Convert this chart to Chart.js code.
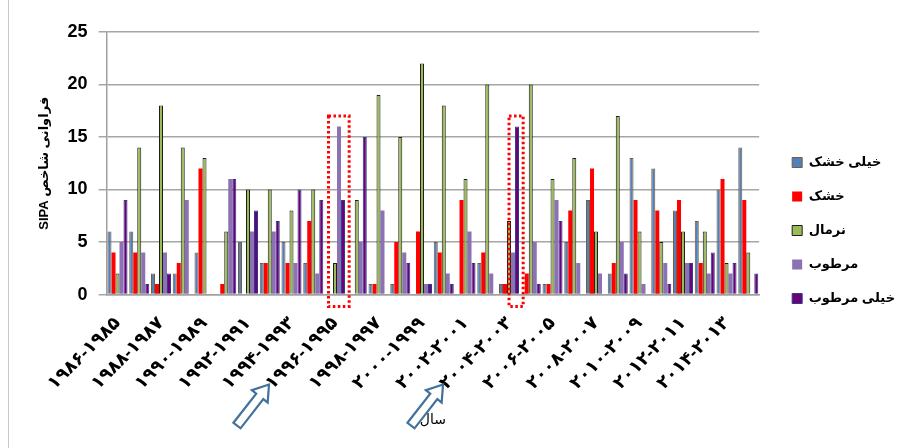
<!DOCTYPE html>
<html>
<head>
<meta charset="utf-8">
<script src="https://cdn.jsdelivr.net/npm/chart.js@4.4.0/dist/chart.umd.min.js"></script>
<style>
    html, body { margin: 0; padding: 0; background: #fff; }
    #wrap { position: relative; width: 903px; height: 448px; }
    canvas { direction: rtl; }
</style>
</head>
<body>
<div id="wrap"><canvas id="sipaChart" width="903" height="448"></canvas></div>
<script>
// hydrological years
const categories = [
    "۱۹۸۶-۱۹۸۵", "۱۹۸۷-۱۹۸۶", "۱۹۸۸-۱۹۸۷", "۱۹۸۹-۱۹۸۸", "۱۹۹۰-۱۹۸۹",
    "۱۹۹۱-۱۹۹۰", "۱۹۹۲-۱۹۹۱", "۱۹۹۳-۱۹۹۲", "۱۹۹۴-۱۹۹۳", "۱۹۹۵-۱۹۹۴",
    "۱۹۹۶-۱۹۹۵", "۱۹۹۷-۱۹۹۶", "۱۹۹۸-۱۹۹۷", "۱۹۹۹-۱۹۹۸", "۲۰۰۰-۱۹۹۹",
    "۲۰۰۱-۲۰۰۰", "۲۰۰۲-۲۰۰۱", "۲۰۰۳-۲۰۰۲", "۲۰۰۴-۲۰۰۳", "۲۰۰۵-۲۰۰۴",
    "۲۰۰۶-۲۰۰۵", "۲۰۰۷-۲۰۰۶", "۲۰۰۸-۲۰۰۷", "۲۰۰۹-۲۰۰۸", "۲۰۱۰-۲۰۰۹",
    "۲۰۱۱-۲۰۱۰", "۲۰۱۲-۲۰۱۱", "۲۰۱۳-۲۰۱۲", "۲۰۱۴-۲۰۱۳", "۲۰۱۵-۲۰۱۴"
];

const veryDry = [6, 6, 2, 2, 4, 0, 5, 3, 5, 3, 0, 0, 1, 1, 0, 5, 0, 3, 1, 0, 1, 5, 9, 2, 13, 12, 8, 7, 10, 14];
const dry     = [4, 4, 1, 3, 12, 1, 0, 3, 3, 7, 0, 0, 1, 5, 6, 4, 9, 4, 1, 2, 1, 8, 12, 3, 9, 8, 9, 3, 11, 9];
const normal  = [2, 14, 18, 14, 13, 6, 10, 10, 8, 10, 3, 9, 19, 15, 22, 18, 11, 20, 7, 20, 11, 13, 6, 17, 6, 5, 6, 6, 3, 4];
const wet     = [5, 4, 4, 9, 0, 11, 6, 6, 3, 2, 16, 5, 8, 4, 1, 2, 6, 2, 4, 5, 9, 3, 2, 5, 1, 3, 3, 2, 2, 0];
const veryWet = [9, 1, 2, 0, 0, 11, 8, 7, 10, 9, 9, 15, 0, 3, 1, 1, 3, 0, 16, 1, 7, 0, 0, 2, 0, 1, 3, 4, 3, 2];

const seriesNames = ["خیلی خشک", "خشک", "نرمال", "مرطوب", "خیلی مرطوب"];
const yTicks = [0, 5, 10, 15, 20, 25];
const highlighted = [10, 18];

const FONT = '"Liberation Sans", "DejaVu Sans", sans-serif';

// white page, frame line, dotted boxes and arrows
const extras = {
    id: "extras",
    beforeDraw(chart) {
        const ctx = chart.ctx;
        ctx.save();
        ctx.fillStyle = "#fff";
        ctx.fillRect(0, 0, chart.width, chart.height);
        ctx.strokeStyle = "#c8c8c8";
        ctx.lineWidth = 1;
        ctx.beginPath();
        ctx.moveTo(8.5, 0);
        ctx.lineTo(8.5, chart.height);
        ctx.stroke();
        ctx.restore();
    },
    afterDraw(chart) {
        const ctx = chart.ctx;
        const xs = chart.scales.x, ys = chart.scales.y;
        const w = xs.width / categories.length;
        ctx.save();
        ctx.strokeStyle = "#ff0000";
        ctx.lineWidth = 3;
        ctx.setLineDash([2.5, 2.5]);
        const top = ys.getPixelForValue(17);
        const boxes = [[-0.3, 0.95], [0.0, 0.65]];
        highlighted.forEach((idx, k) => {
            const cx = xs.getPixelForValue(idx);
            const x0 = cx + boxes[k][0] * w;
            ctx.strokeRect(x0, top, boxes[k][1] * w, ys.bottom + 12 - top);
        });
        ctx.setLineDash([]);

        // hollow arrows pointing at the highlighted year labels
        highlighted.forEach((idx) => {
            const cx = xs.getPixelForValue(idx);
            const tip = { x: cx - 66, y: ys.bottom + 90 };
            const tail = { x: tip.x - 32, y: tip.y + 41 };
            const ang = Math.atan2(tip.y - tail.y, tip.x - tail.x);
            const len = Math.hypot(tip.x - tail.x, tip.y - tail.y);
            ctx.save();
            ctx.translate(tail.x, tail.y);
            ctx.rotate(ang);
            ctx.beginPath();
            ctx.moveTo(0, -4.5);
            ctx.lineTo(len - 15, -4.5);
            ctx.lineTo(len - 15, -10);
            ctx.lineTo(len, 0);
            ctx.lineTo(len - 15, 10);
            ctx.lineTo(len - 15, 4.5);
            ctx.lineTo(0, 4.5);
            ctx.closePath();
            ctx.fillStyle = "#fff";
            ctx.fill();
            ctx.strokeStyle = "#41719c";
            ctx.lineWidth = 2.2;
            ctx.stroke();
            ctx.restore();
        });
        ctx.restore();
    }
};

const ctx = document.getElementById("sipaChart").getContext("2d");
new Chart(ctx, {
    type: "bar",
    data: {
        labels: categories,
        datasets: [
            { label: seriesNames[0], data: veryDry, backgroundColor: "#4f81bd", borderColor: "#7b5a3c", borderWidth: 1 },
            { label: seriesNames[1], data: dry, backgroundColor: "#ff0000", borderColor: "#ff0000", borderWidth: 0 },
            { label: seriesNames[2], data: normal, backgroundColor: "#9bbb59", borderColor: "#1e1e1e", borderWidth: 1 },
            { label: seriesNames[3], data: wet, backgroundColor: "#8c72b4", borderColor: "#8c72b4", borderWidth: 0 },
            { label: seriesNames[4], data: veryWet, backgroundColor: "#6b0077", borderColor: "#2d3b8a", borderWidth: 1 },
        ],
    },
    options: {
        responsive: false,
        animation: false,
        layout: { padding: { left: 37, top: 32, right: -2, bottom: 19 } },
        datasets: { bar: { categoryPercentage: 0.92, barPercentage: 1.0 } },
        scales: {
            x: {
                grid: { display: false, drawTicks: false },
                border: { display: true, color: "#a0a0a0", width: 1.5 },
                ticks: {
                    autoSkip: false,
                    maxRotation: 45,
                    minRotation: 45,
                    padding: 18,
                    color: "#000",
                    font: { family: FONT, size: 18, weight: "bold" },
                    callback: (v, i) => (i % 2 === 0 ? categories[i] : ""),
                },
                title: {
                    display: true,
                    text: "سال",
                    color: "#000",
                    font: { family: FONT, size: 14 },
                    padding: { top: 0, bottom: 0 },
                },
                // let the rotated labels hang past the plot edge
                afterFit: (scale) => { scale.paddingLeft = 0; scale.paddingRight = 0; },
            },
            y: {
                min: 0,
                max: 25,
                afterBuildTicks: (scale) => { scale.ticks = yTicks.map((v) => ({ value: v })); },
                grid: { color: "#a6a6a6", lineWidth: 1.5, tickLength: 8 },
                border: { display: true, color: "#a0a0a0", width: 1.5 },
                ticks: {
                    padding: 11,
                    color: "#000",
                    font: { family: FONT, size: 18, weight: "bold" },
                },
                title: {
                    display: true,
                    text: "فراوانی شاخص SIPA",
                    color: "#000",
                    font: { family: FONT, size: 13, weight: "bold" },
                    padding: { top: 0, bottom: 4 },
                },
            },
            y2: {
                position: "right",
                display: true,
                grid: { display: false, drawTicks: false },
                border: { display: false },
                ticks: { display: false },
                afterFit: (scale) => { scale.width = 12; },
            },
        },
        plugins: {
            legend: {
                position: "right",
                align: "center",
                labels: {
                    boxWidth: 10,
                    boxHeight: 10,
                    padding: 21,
                    color: "#000",
                    font: { family: FONT, size: 13, weight: "bold" },
                },
            },
            tooltip: { enabled: false },
        },
    },
    plugins: [extras],
});
</script>
</body>
</html>
